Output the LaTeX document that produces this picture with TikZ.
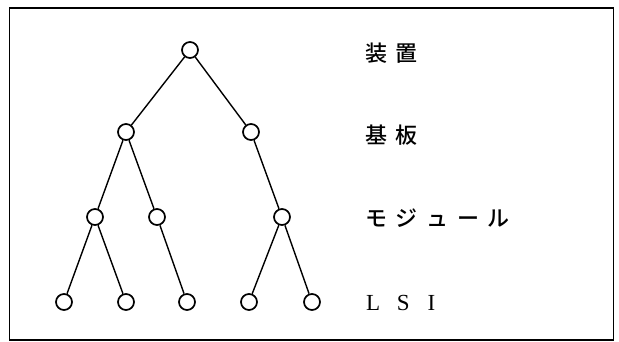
\documentclass[tikz,border=0pt]{standalone}
\usepackage{fontspec}
\setmainfont{Liberation Serif}
\newfontfamily\cjk{Noto Sans CJK JP}[BoldFont={Noto Sans CJK JP Medium}]
\tikzset{
  tn/.style={circle, draw, line width=1.7pt, minimum size=16pt, inner sep=0pt},
  lab/.style={anchor=west, inner sep=0pt, font=\fontsize{22}{22}\selectfont},
  edge/.style={line width=1.4pt}
}
\newcommand{\cc}[1]{\makebox[30.7pt][l]{#1}}
\begin{document}
\begin{tikzpicture}[x=1pt,y=-1pt]
\useasboundingbox (0,0) rectangle (619,342);
\draw[line width=1.3pt] (9.5,8) rectangle (613.5,340);
% nodes
\node[tn] (r)  at (190,50) {};
\node[tn] (a)  at (126,132) {};
\node[tn] (b)  at (251,132) {};
\node[tn] (a1) at (95,217) {};
\node[tn] (a2) at (157,217) {};
\node[tn] (b1) at (282,217) {};
\node[tn] (l1) at (64,302) {};
\node[tn] (l2) at (126,302) {};
\node[tn] (l3) at (187,302) {};
\node[tn] (l4) at (249,302) {};
\node[tn] (l5) at (312,302) {};
% edges
\draw[edge] (r) -- (a);
\draw[edge] (r) -- (b);
\draw[edge] (a) -- (a1);
\draw[edge] (a) -- (a2);
\draw[edge] (b) -- (b1);
\draw[edge] (a1) -- (l1);
\draw[edge] (a1) -- (l2);
\draw[edge] (a2) -- (l3);
\draw[edge] (b1) -- (l4);
\draw[edge] (b1) -- (l5);
% labels
\node[lab] (t1) at (365,53) {\cjk\bfseries\cc{装}\cc{置}};
\node[lab] (t2) at (365,135) {\cjk\bfseries\cc{基}\cc{板}};
\node[lab] (t3) at (365,218) {\cjk\bfseries\cc{モ}\cc{ジ}\cc{ュ}\cc{ー}\cc{ル}};
\node[lab, font=\fontsize{23}{23}\selectfont] (t4) at (366,303) {\cc{L}\cc{S}\cc{I}};
\end{tikzpicture}
\end{document}
